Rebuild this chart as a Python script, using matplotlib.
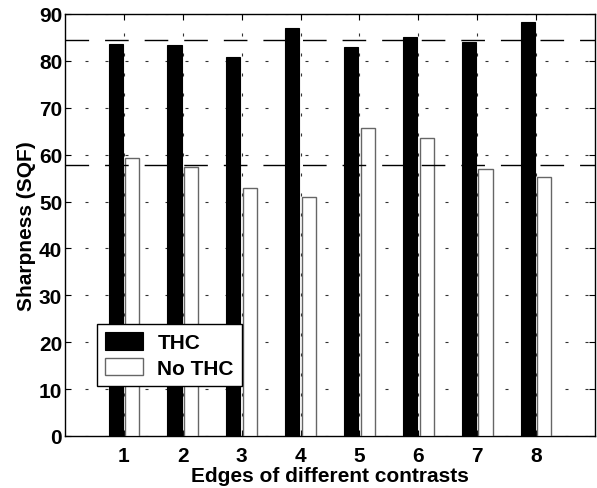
import numpy as np
import matplotlib
matplotlib.use("Agg")
import matplotlib.pyplot as plt

categories = [1, 2, 3, 4, 5, 6, 7, 8]
thc = [83.7, 83.4, 80.8, 87.0, 82.9, 85.1, 84.1, 88.3]
no_thc = [59.3, 57.4, 52.9, 51.0, 65.6, 63.5, 57.0, 55.3]
yticks = [0, 10, 20, 30, 40, 50, 60, 70, 80, 90]

plt.rcParams['font.family'] = ['Liberation Sans', 'DejaVu Sans']
plt.rcParams['font.weight'] = 'bold'

fig = plt.figure(figsize=(5.97, 4.89), dpi=100)
ax = fig.add_axes([65/597, 1-437/489, 530/597, 422/489])

x = np.array(categories, dtype=float)
w = 0.24
ax.bar(x - 0.14, thc, w, color='black', edgecolor='black', linewidth=0.8, label='THC', zorder=3)
ax.bar(x + 0.14, no_thc, w, color='white', edgecolor='#666666', linewidth=1.0, label='No THC', zorder=3)

ax.axhline(np.mean(thc), color='black', linestyle=(0, (17, 11.5)), linewidth=1.0, zorder=4)
ax.axhline(np.mean(no_thc), color='black', linestyle=(0, (17, 11.5)), linewidth=1.0, zorder=4)

ax.set_xlim(0, 9)
ax.set_ylim(0, 90)
ax.set_xticks(categories)
ax.set_yticks(yticks)
ax.grid(True, color='#333333', linestyle=(0, (2.7, 15.3)), linewidth=0.8, zorder=1)
ax.tick_params(direction='in', top=True, right=True, labelsize=15, length=4, width=0.8)
ax.tick_params(axis='y', pad=2)
ax.tick_params(axis='x', pad=7)
for lbl in ax.get_xticklabels() + ax.get_yticklabels():
    lbl.set_fontweight('bold')
for s in ax.spines.values():
    s.set_linewidth(1.0)

ax.set_xlabel('Edges of different contrasts', fontsize=15, fontweight='bold', labelpad=1)
ax.set_ylabel('Sharpness (SQF)', fontsize=15, fontweight='bold', labelpad=2)

leg = ax.legend(loc='lower left', bbox_to_anchor=(32/530, 50/422), borderaxespad=0,
                fancybox=False, edgecolor='black', framealpha=1,
                prop={'weight': 'bold', 'size': 15},
                handlelength=1.8, handleheight=0.95, handletextpad=0.7,
                borderpad=0.4, labelspacing=0.25)
leg.get_frame().set_linewidth(1.0)

fig.savefig('out.png', dpi=100)
